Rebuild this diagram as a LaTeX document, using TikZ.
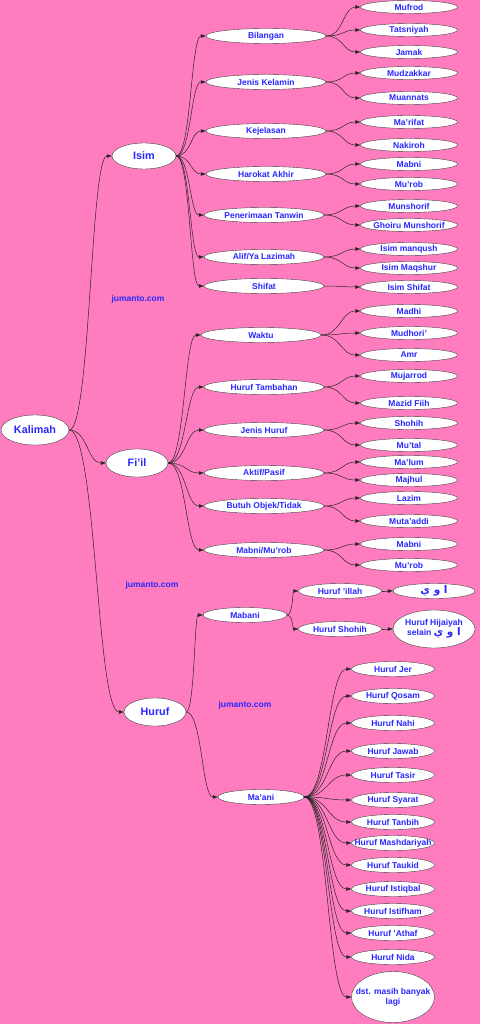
\documentclass[tikz,border=0pt]{standalone}
\usepackage{fontspec}
\setmainfont{Liberation Sans}
\newfontfamily\arabicfont[Script=Arabic]{DejaVu Sans}
\TeXXeTstate=1
\usetikzlibrary{shapes.geometric,arrows.meta,calc}
\definecolor{bgpink}{RGB}{255,125,190}
\definecolor{txtblue}{RGB}{40,40,255}
\newcommand{\hurufaw}{{\arabicfont\fontsize{10.5}{11}\selectfont\beginR ا و ي\endR}}

\begin{document}
\begin{tikzpicture}[x=1pt,y=-1pt,
  oval/.style={ellipse,draw=black!75,fill=white,line width=0.4pt,
               text=txtblue,align=center,inner xsep=-12pt,inner ysep=0pt,
               font=\fontsize{8.5}{10}\selectfont\bfseries},
  kata/.style={oval,minimum width=64pt,minimum height=28pt,
               font=\fontsize{10.8}{12}\selectfont\bfseries},
  sub/.style={oval,minimum width=120pt,minimum height=15pt},
  leaf/.style={oval,minimum width=97pt,minimum height=13pt},
  hleaf/.style={oval,minimum width=83pt,minimum height=15pt},
  wmark/.style={text=txtblue,font=\fontsize{8.5}{10}\selectfont\bfseries},
  link/.style={every edge/.style={draw=black!85,line width=0.5pt,
               -{Triangle[length=5pt,width=3.5pt]},
               to path={let \p1=(\tikztostart), \p2=(\tikztotarget) in
                 .. controls ($(\p1)!0.5!(\x2,\y1)$) and ($(\p2)!0.5!(\x1,\y2)$) .. (\p2)}}},
]
\useasboundingbox[fill=bgpink] (0,0) rectangle (480,1024);
% watermarks
\node[wmark] (wm1) at (138,299) {jumanto.com};
\node[wmark] (wm2) at (152,585) {jumanto.com};
\node[wmark] (wm3) at (245,705) {jumanto.com};
% main nodes
\node[kata,minimum width=68pt,minimum height=30pt] (kalimah) at (35,430) {Kalimah};
\node[kata,minimum height=26pt] (isim) at (144,156) {Isim};
\node[kata,minimum width=62pt] (fiil) at (137,463) {Fi'il};
\node[kata,minimum width=62pt] (huruf) at (155,712) {Huruf};
% Isim
\node[sub] (bil) at (266,36) {Bilangan};
\node[sub] (jk) at (266,82) {Jenis Kelamin};
\node[sub] (jel) at (266,131) {Kejelasan};
\node[sub] (hak) at (266,174) {Harokat Akhir};
\node[sub] (tan) at (264,215) {Penerimaan Tanwin};
\node[sub] (aly) at (264,257) {Alif/Ya Lazimah};
\node[sub] (shf) at (264,286) {Shifat};
\node[leaf] (mufrod) at (409,7) {Mufrod};
\node[leaf] (tats) at (409,30) {Tatsniyah};
\node[leaf] (jamak) at (409,52) {Jamak};
\node[leaf] (mudz) at (409,73) {Mudzakkar};
\node[leaf] (muan) at (409,98) {Muannats};
\node[leaf] (marifat) at (409,122) {Ma'rifat};
\node[leaf] (nakiroh) at (409,145) {Nakiroh};
\node[leaf] (mabnia) at (409,164) {Mabni};
\node[leaf] (muroba) at (409,184) {Mu'rob};
\node[leaf] (munsh) at (409,206) {Munshorif};
\node[leaf] (ghoiru) at (409,225) {Ghoiru Munshorif};
\node[leaf] (manqush) at (409,249) {Isim manqush};
\node[leaf] (maqshur) at (409,268) {Isim Maqshur};
\node[leaf] (ishifat) at (409,287) {Isim Shifat};
% Fi'il
\node[sub] (waktu) at (261,335) {Waktu};
\node[sub] (tamb) at (264,387) {Huruf Tambahan};
\node[sub] (jh) at (264,430) {Jenis Huruf};
\node[sub] (akt) at (264,473) {Aktif/Pasif};
\node[sub] (obj) at (264,506) {Butuh Objek/Tidak};
\node[sub] (mbm) at (264,550) {Mabni/Mu'rob};
\node[leaf] (madhi) at (409,311) {Madhi};
\node[leaf] (mudhori) at (409,333) {Mudhori'};
\node[leaf] (amr) at (409,355) {Amr};
\node[leaf] (mujarrod) at (409,376) {Mujarrod};
\node[leaf] (mazid) at (409,403) {Mazid Fiih};
\node[leaf] (shohih) at (409,423) {Shohih};
\node[leaf] (mutal) at (409,445) {Mu'tal};
\node[leaf] (malum) at (409,462) {Ma'lum};
\node[leaf] (majhul) at (409,480) {Majhul};
\node[leaf] (lazim) at (409,498) {Lazim};
\node[leaf] (mutaaddi) at (409,521) {Muta'addi};
\node[leaf] (mabnib) at (409,544) {Mabni};
\node[leaf] (murobb) at (409,565) {Mu'rob};
% Huruf
\node[hleaf,minimum width=84pt] (mabani) at (245,615) {Mabani};
\node[hleaf,minimum width=86pt] (maani) at (261,797) {Ma'ani};
\node[hleaf] (illah) at (340,591) {Huruf 'illah};
\node[hleaf] (hshohih) at (340,629) {Huruf Shohih};
\node[hleaf,minimum width=82pt] (wawu) at (434,591) {\hurufaw};
\node[hleaf,minimum width=82pt,minimum height=38pt] (hijaiyah) at (434,629)
  {Huruf Hijaiyah\\selain \hurufaw};
\node[hleaf] (jer) at (393,669) {Huruf Jer};
\node[hleaf] (qosam) at (393,696) {Huruf Qosam};
\node[hleaf] (nahi) at (393,723) {Huruf Nahi};
\node[hleaf] (jawab) at (393,751) {Huruf Jawab};
\node[hleaf] (tasir) at (393,775) {Huruf Tasir};
\node[hleaf] (syarat) at (393,800) {Huruf Syarat};
\node[hleaf] (tanbih) at (393,822) {Huruf Tanbih};
\node[hleaf] (mashd) at (393,843) {Huruf Mashdariyah};
\node[hleaf] (taukid) at (393,865) {Huruf Taukid};
\node[hleaf] (istiqbal) at (393,889) {Huruf Istiqbal};
\node[hleaf] (istifham) at (393,911) {Huruf Istifham};
\node[hleaf] (athaf) at (393,933) {Huruf 'Athaf};
\node[hleaf] (nida) at (393,957) {Huruf Nida};
\node[hleaf,minimum height=51pt] (dst) at (393,997) {dst. masih banyak\\lagi};
% connectors
\path[link] (kalimah.east) edge (isim.west) edge (fiil.west) edge (huruf.west);
\path[link] (isim.east) edge (bil.west) edge (jk.west) edge (jel.west)
  edge (hak.west) edge (tan.west) edge (aly.west) edge (shf.west);
\path[link] (bil.east) edge (mufrod.west) edge (tats.west) edge (jamak.west);
\path[link] (jk.east) edge (mudz.west) edge (muan.west);
\path[link] (jel.east) edge (marifat.west) edge (nakiroh.west);
\path[link] (hak.east) edge (mabnia.west) edge (muroba.west);
\path[link] (tan.east) edge (munsh.west) edge (ghoiru.west);
\path[link] (aly.east) edge (manqush.west) edge (maqshur.west);
\path[link] (shf.east) edge (ishifat.west);
\path[link] (fiil.east) edge (waktu.west) edge (tamb.west) edge (jh.west)
  edge (akt.west) edge (obj.west) edge (mbm.west);
\path[link] (waktu.east) edge (madhi.west) edge (mudhori.west) edge (amr.west);
\path[link] (tamb.east) edge (mujarrod.west) edge (mazid.west);
\path[link] (jh.east) edge (shohih.west) edge (mutal.west);
\path[link] (akt.east) edge (malum.west) edge (majhul.west);
\path[link] (obj.east) edge (lazim.west) edge (mutaaddi.west);
\path[link] (mbm.east) edge (mabnib.west) edge (murobb.west);
\path[link] (huruf.east) edge (mabani.west) edge (maani.west);
\path[link] (mabani.east) edge (illah.west) edge (hshohih.west);
\path[link] (illah.east) edge (wawu.west);
\path[link] (hshohih.east) edge (hijaiyah.west);
\path[link] (maani.east) edge (jer.west) edge (qosam.west) edge (nahi.west)
  edge (jawab.west) edge (tasir.west) edge (syarat.west) edge (tanbih.west)
  edge (mashd.west) edge (taukid.west) edge (istiqbal.west) edge (istifham.west)
  edge (athaf.west) edge (nida.west) edge (dst.west);
\end{tikzpicture}
\end{document}
